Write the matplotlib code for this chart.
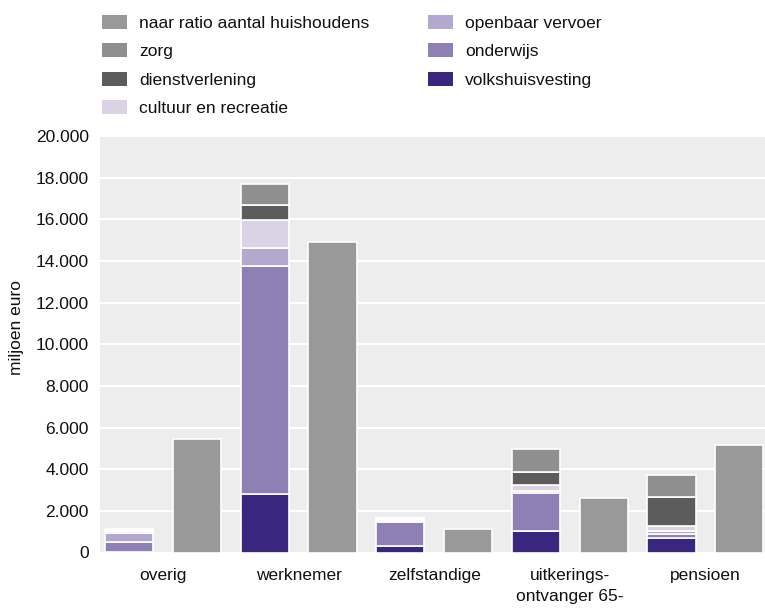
import matplotlib
matplotlib.use("Agg")
import matplotlib.pyplot as plt
from matplotlib.patches import Patch
import numpy as np

plt.rcParams['font.family'] = ['Liberation Sans', 'DejaVu Sans']

categories = ['overig', 'werknemer', 'zelfstandige', 'uitkerings-\nontvanger 65-', 'pensioen']

# stacked components (miljoen euro), bottom to top
volkshuisvesting = [20, 2830, 330, 1050, 710]
onderwijs = [500, 10940, 1120, 1820, 180]
openbaar_vervoer = [400, 830, 80, 80, 120]
cultuur_recreatie = [130, 1360, 80, 290, 280]
dienstverlening = [30, 750, 30, 610, 1390]
zorg = [40, 980, 30, 1100, 1040]

# distribution by number of households
naar_ratio = [5430, 14890, 1110, 2630, 5160]

yticks = [0, 2000, 4000, 6000, 8000, 10000, 12000, 14000, 16000, 18000, 20000]
ytick_labels = ['0', '2.000', '4.000', '6.000', '8.000', '10.000', '12.000',
                '14.000', '16.000', '18.000', '20.000']

stack = [
    ('volkshuisvesting', volkshuisvesting, '#39267F'),
    ('onderwijs', onderwijs, '#8E80B5'),
    ('openbaar vervoer', openbaar_vervoer, '#B3A8CD'),
    ('cultuur en recreatie', cultuur_recreatie, '#DAD3E6'),
    ('dienstverlening', dienstverlening, '#5C5C5C'),
    ('zorg', zorg, '#8F8F8F'),
]
ratio_color = '#999999'
text_color = '#111111'
fs = 12.5

W, H = 765, 610
fig = plt.figure(figsize=(W / 100, H / 100), dpi=100)
ax = fig.add_axes([100 / W, (H - 552.5) / H, (W - 100) / W, (552.5 - 136) / H])
ax.set_facecolor('#EDEDED')

x = np.arange(len(categories))
bw = 0.355
off = 0.25

bottom = np.zeros(len(categories))
for name, vals, col in stack:
    ax.bar(x - off, vals, bw, bottom=bottom, color=col, edgecolor='white',
           linewidth=1.2, zorder=3)
    bottom += np.array(vals)

ax.bar(x + off, naar_ratio, bw, color=ratio_color, edgecolor='white',
       linewidth=1.2, zorder=3)

ax.set_ylim(0, 20000)
ax.set_xlim(-0.465, 4.44)
ax.set_yticks(yticks)
ax.set_yticklabels(ytick_labels)
ax.set_xticks(x)
ax.set_xticklabels(categories, linespacing=1.5)
ax.yaxis.grid(True, color='white', linewidth=1.5, zorder=1)
ax.set_axisbelow(True)
for s in ax.spines.values():
    s.set_visible(False)
ax.tick_params(axis='both', length=0, labelsize=fs, colors=text_color)
ax.tick_params(axis='y', pad=8)
ax.tick_params(axis='x', pad=11)
ax.set_ylabel('miljoen euro', fontsize=fs, color=text_color)
ax.yaxis.set_label_coords(-76 / (W - 100), 0.54)

# legend in two columns above the plot
col1 = [('naar ratio aantal huishoudens', ratio_color), ('zorg', '#8F8F8F'),
        ('dienstverlening', '#5C5C5C'), ('cultuur en recreatie', '#DAD3E6')]
col2 = [('openbaar vervoer', '#B3A8CD'), ('onderwijs', '#8E80B5'),
        ('volkshuisvesting', '#39267F')]

def make_legend(items, xpix):
    handles = [Patch(facecolor=c, edgecolor='none', label=l) for l, c in items]
    leg = fig.legend(handles=handles, loc='upper left',
                     bbox_to_anchor=(xpix / W, 1 - 15 / H), frameon=False,
                     fontsize=fs, handlelength=1.44, handleheight=0.86,
                     handletextpad=0.71, labelspacing=0.72, borderaxespad=0,
                     borderpad=0)
    for t in leg.get_texts():
        t.set_color(text_color)
    return leg

make_legend(col1, 101.7)
make_legend(col2, 428)

fig.savefig('out.png', dpi=100)
